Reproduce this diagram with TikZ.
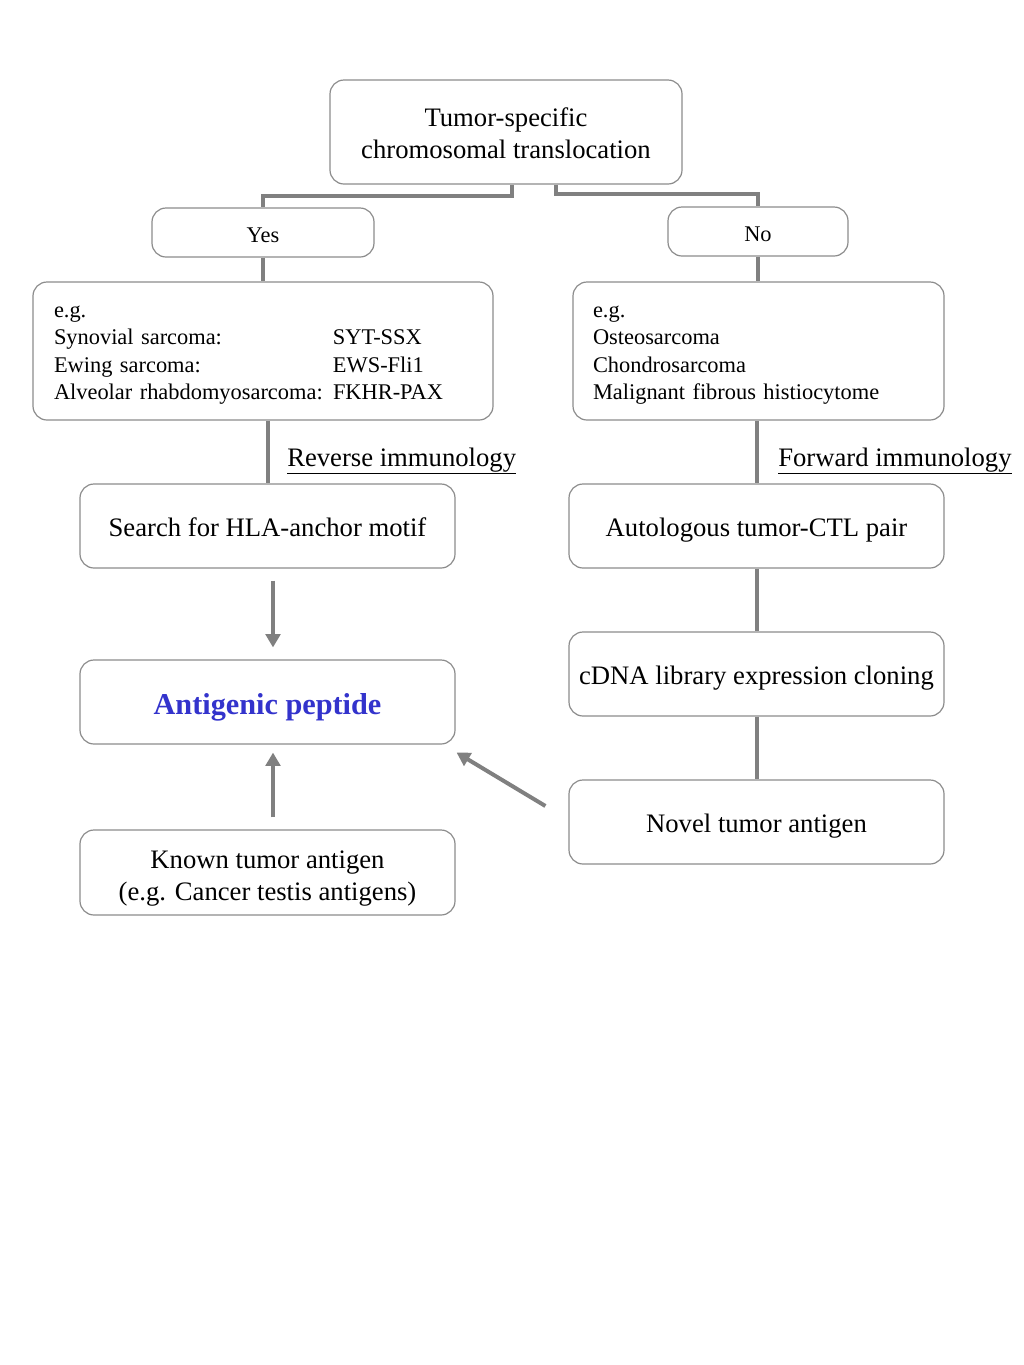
\documentclass[tikz,border=0pt]{standalone}
\usepackage{fontspec}
\setmainfont{Liberation Serif}
\usetikzlibrary{calc,arrows.meta}
\definecolor{linegray}{RGB}{128,128,128}
\definecolor{boxgray}{RGB}{140,140,140}
\definecolor{pepblue}{RGB}{51,51,204}
\tikzset{
  box/.style={draw=boxgray, line width=0.9pt, rounded corners=10.5pt, inner sep=0pt, align=center},
  conn/.style={draw=linegray, line width=3pt},
  arr/.style={draw=linegray, line width=3pt, -{Triangle[length=10pt,width=11pt]}},
  big/.style={font=\fontsize{20}{24}\selectfont},
  small/.style={font=\fontsize{16.8}{20.6}\selectfont},
  one/.style={text height=17pt, text depth=1.5pt},
}
\begin{document}
\begin{tikzpicture}[x=0.75pt,y=-0.75pt]
\useasboundingbox (0,0) rectangle (1024,1365);
\node[box,big,minimum width=264pt,minimum height=78pt] (top) at (506,132) {\rule{0pt}{16pt}Tumor-specific\\chromosomal translocation};
\node[box,small,one,minimum width=166.5pt,minimum height=36.75pt] (yes) at (263,232.5) {Yes};
\node[box,small,one,minimum width=135pt,minimum height=36.75pt] (no) at (758,231.5) {No};
\node[box,small,minimum width=345pt,minimum height=103.5pt,text width=313.5pt,align=left] (leg) at (263,351)
  {\rule{0pt}{15.2pt}e.g.\\\makebox[209.25pt][l]{Synovial sarcoma:}SYT-SSX\\\makebox[209.25pt][l]{Ewing sarcoma:}EWS-Fli1\\\makebox[209.25pt][l]{Alveolar rhabdomyosarcoma:}FKHR-PAX};
\node[box,small,minimum width=278.25pt,minimum height=103.5pt,text width=248.25pt,align=left] (reg) at (758.5,351)
  {\rule{0pt}{15.2pt}e.g.\\Osteosarcoma\\Chondrosarcoma\\Malignant fibrous histiocytome};
\node[box,big,one,minimum width=281.25pt,minimum height=63pt] (search) at (267.5,526) {Search for HLA-anchor motif};
\node[box,big,one,minimum width=281.25pt,minimum height=63pt] (auto) at (756.5,526) {Autologous tumor-CTL pair};
\node[box,text height=18.5pt,text depth=0pt,minimum width=281.25pt,minimum height=63pt,font=\fontsize{22.7}{26}\selectfont\bfseries,text=pepblue] (antigen) at (267.5,702) {Antigenic peptide};
\node[box,big,one,minimum width=281.25pt,minimum height=63pt] (cdna) at (756.5,674) {cDNA library expression cloning};
\node[box,big,one,minimum width=281.25pt,minimum height=63pt] (novel) at (756.5,822) {Novel tumor antigen};
\node[box,big,minimum width=281.25pt,minimum height=63.75pt] (known) at (267.5,872.5) {\rule{0pt}{22pt}Known tumor antigen\\(e.g. Cancer testis antigens)};
\node[big,anchor=base west,inner sep=0pt] (rev) at (287,466) {\underline{Reverse immunology}};
\node[big,anchor=base west,inner sep=0pt] (fwd) at (778,466) {\underline{Forward immunology}};
% connectors
\draw[conn] ($(top.south)+(6,0)$) -- ++(0,11) -| (yes.north);
\draw[conn] ($(top.south)+(50,0)$) -- ++(0,9) -| (no.north);
\draw[conn] (yes.south) -- (yes.south |- leg.north);
\draw[conn] (no.south) -- (no.south |- reg.north);
\draw[conn] (search.north |- leg.south) -- (search.north);
\draw[conn] (auto.north |- reg.south) -- (auto.north);
\draw[conn] (auto.south) -- (cdna.north);
\draw[conn] (cdna.south) -- (novel.north);
\draw[arr] ($(search.south)+(5.5,12)$) -- ($(antigen.north)+(5.5,-12)$);
\draw[arr] ($(known.north)+(5.5,-12)$) -- ($(antigen.south)+(5.5,8)$);
\draw[arr] ($(novel.west)+(-23,-16)$) -- ($(antigen.south east)+(1,8)$);
\end{tikzpicture}
\end{document}
